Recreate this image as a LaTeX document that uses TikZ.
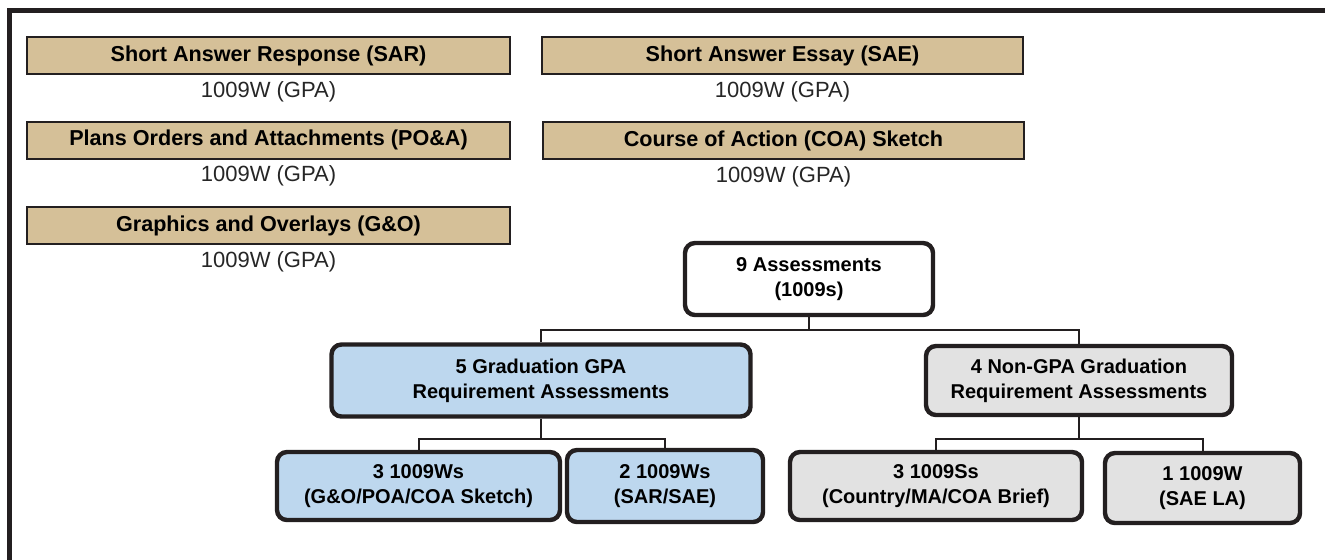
\documentclass[tikz,border=0pt]{standalone}
\usepackage{fontspec}
\setmainfont{Liberation Sans}
\usetikzlibrary{positioning}

\definecolor{tanfill}{RGB}{213,192,152}
\definecolor{gpafill}{RGB}{189,215,238}
\definecolor{nongpafill}{RGB}{226,226,226}
\definecolor{edge}{RGB}{35,31,32}

\tikzset{
  typebox/.style={draw=edge, line width=1pt, fill=tanfill, inner sep=0pt,
    minimum height=18.5pt, font=\fontsize{10.8}{12}\selectfont\bfseries},
  weight/.style={inner sep=0pt, font=\fontsize{11}{12}\selectfont, text=black!85},
  treebox/.style={draw=edge, line width=2.2pt, rounded corners=5pt, align=center,
    inner sep=0pt, font=\fontsize{10}{12.5}\selectfont\bfseries},
  link/.style={draw=edge, line width=1pt}
}

\begin{document}
\begin{tikzpicture}[x=0.5pt, y=-0.5pt]
\useasboundingbox (0,0) rectangle (1325,559);

% Frame
\draw[edge, line width=2.5pt] (9.5,600) -- (9.5,10.5) -- (1400,10.5);

% Assessment types
\node[typebox, minimum width=241.5pt] (sar) at (268.5,55.5) {Short Answer Response (SAR)};
\node[weight, below=3pt of sar] (sarw) {1009W (GPA)};
\node[typebox, minimum width=240.5pt] (sae) at (782.5,55.5) {Short Answer Essay (SAE)};
\node[weight, below=3pt of sae] (saew) {1009W (GPA)};

\node[typebox, minimum width=241.5pt] (poa) at (268.5,140) {Plans Orders and Attachments (PO\&A)};
\node[weight, below=3pt of poa] (poaw) {1009W (GPA)};
\node[typebox, minimum width=240.5pt] (coa) at (783.5,140.5) {Course of Action (COA) Sketch};
\node[weight, below=3pt of coa] (coaw) {1009W (GPA)};

\node[typebox, minimum width=241.5pt] (gao) at (268.5,225.5) {Graphics and Overlays (G\&O)};
\node[weight, below=3pt of gao] (gaow) {1009W (GPA)};

% Tree
\node[treebox, fill=white, minimum width=124pt, minimum height=36pt] (all) at (809,279) {9 Assessments\\(1009s)};

\node[treebox, fill=gpafill, minimum width=209.5pt, minimum height=36pt] (gpa) at (541,380.5) {5 Graduation GPA\\Requirement Assessments};
\node[treebox, fill=nongpafill, minimum width=153pt, minimum height=34.5pt] (nongpa) at (1079,380.5) {4 Non-GPA Graduation\\Requirement Assessments};

\node[treebox, fill=gpafill, minimum width=141.5pt, minimum height=34pt] (gpaw) at (418.5,486) {3 1009Ws\\(G\&O/POA/COA Sketch)};
\node[treebox, fill=gpafill, minimum width=98pt, minimum height=36pt] (gpas) at (665,486) {2 1009Ws\\(SAR/SAE)};
\node[treebox, fill=nongpafill, minimum width=146pt, minimum height=34pt] (briefs) at (936,486) {3 1009Ss\\(Country/MA/COA Brief)};
\node[treebox, fill=nongpafill, minimum width=97.5pt, minimum height=35pt] (saela) at (1202.5,488) {1 1009W\\(SAE LA)};

% Connectors
\coordinate (allbus) at (809,330);
\coordinate (gpabus) at (541,439);
\coordinate (nongpabus) at (1079,439);
\draw[link] (all.south) -- (allbus);
\draw[link] (gpa.north) |- (allbus) -| (nongpa.north);
\draw[link] (gpa.south) -- (gpabus);
\draw[link] (gpaw.north) |- (gpabus) -| (gpas.north);
\draw[link] (nongpa.south) -- (nongpabus);
\draw[link] (briefs.north) |- (nongpabus) -| (saela.north);

\end{tikzpicture}
\end{document}
